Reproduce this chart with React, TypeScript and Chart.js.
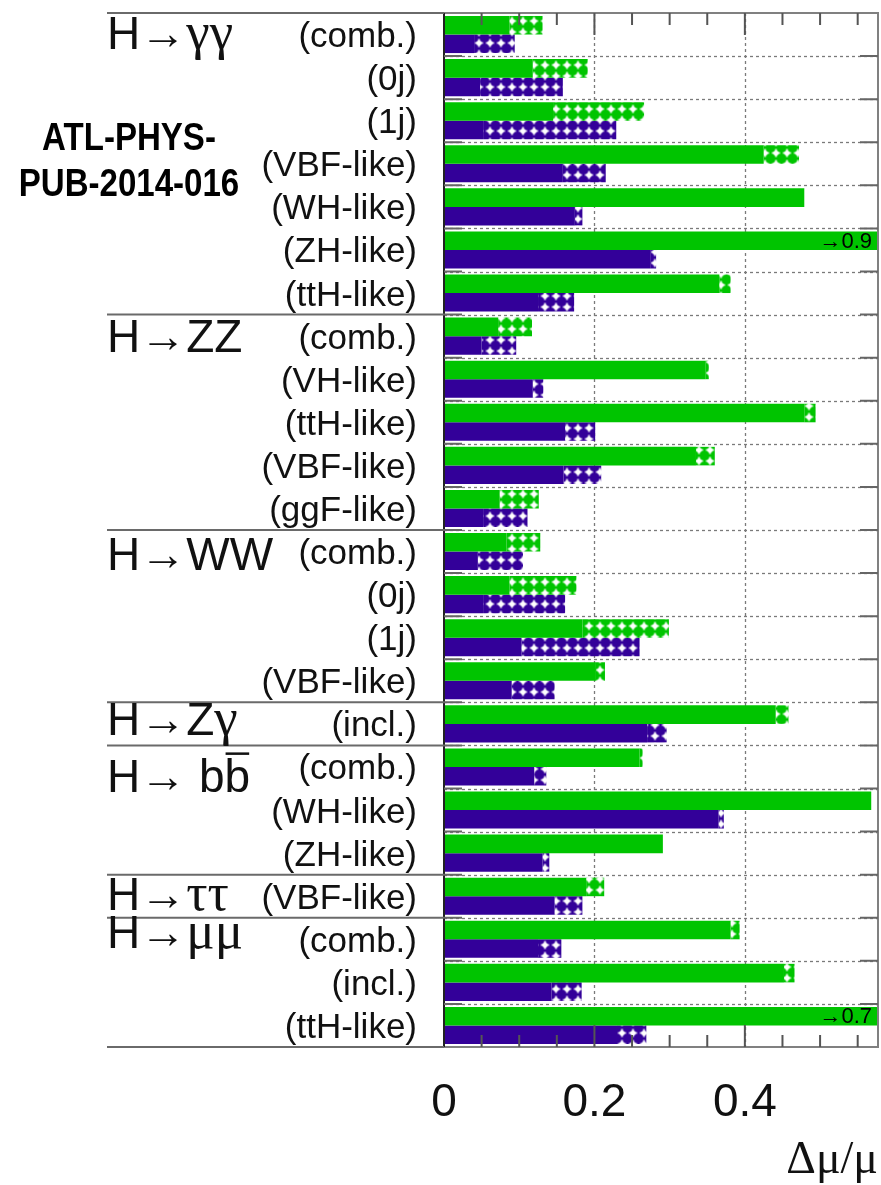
import { useEffect, useRef } from 'react';
import { Chart, registerables } from 'chart.js';

Chart.register(...registerables);

// Channel categories (top to bottom)
const channels = [
  '(comb.)', '(0j)', '(1j)', '(VBF-like)', '(WH-like)', '(ZH-like)', '(ttH-like)',
  '(comb.)', '(VH-like)', '(ttH-like)', '(VBF-like)', '(ggF-like)',
  '(comb.)', '(0j)', '(1j)', '(VBF-like)',
  '(incl.)',
  '(comb.)', '(WH-like)', '(ZH-like)',
  '(VBF-like)',
  '(comb.)', '(incl.)', '(ttH-like)',
];

// Decay-mode groups and how many channels each one spans
const groupTitles = ['H→γγ', 'H→ZZ', 'H→WW', 'H→Zγ', 'H→ bb\u0304', 'H→ττ', 'H→μμ'];
const groupSizes = [7, 5, 4, 1, 3, 1, 3];

// 300 fb-1: experimental-only and total (incl. theory) relative uncertainty
const lumi300Exp = [
  0.087, 0.118, 0.145, 0.425, 0.479, 0.9, 0.366,
  0.072, 0.348, 0.479, 0.335, 0.074,
  0.083, 0.087, 0.184, 0.202,
  0.441,
  0.26, 0.568, 0.291,
  0.189,
  0.381, 0.452, 0.7,
];
const lumi300Tot = [
  0.131, 0.191, 0.266, 0.472, 0.479, 0.9, 0.381,
  0.117, 0.352, 0.494, 0.36, 0.126,
  0.128, 0.176, 0.299, 0.214,
  0.458,
  0.264, 0.568, 0.291,
  0.213,
  0.393, 0.466, 0.7,
];

// 3000 fb-1: experimental-only and total relative uncertainty
const lumi3000Exp = [
  0.04, 0.048, 0.052, 0.158, 0.174, 0.275, 0.125,
  0.05, 0.118, 0.161, 0.159, 0.052,
  0.045, 0.052, 0.103, 0.09,
  0.27,
  0.12, 0.365, 0.131,
  0.147,
  0.125, 0.143, 0.23,
];
const lumi3000Tot = [
  0.094, 0.158, 0.229, 0.215, 0.184, 0.282, 0.173,
  0.096, 0.132, 0.201, 0.209, 0.111,
  0.105, 0.161, 0.26, 0.147,
  0.296,
  0.136, 0.372, 0.14,
  0.184,
  0.156, 0.183, 0.269,
];

const xTickLabels = [0, 0.2, 0.4];
const X_MAX = 0.577;
const X_MINOR_STEP = 0.05;

const GREEN = '#00c400';
const PURPLE = '#330099';
const SANS = '"Liberation Sans", Arial, Helvetica, sans-serif';
const SERIF = '"Liberation Serif", "Times New Roman", serif';

// Per-group baseline shift of the decay-mode title relative to its first row centre
const groupTitleDy = [14, 16, 18, 11, 25, 14, 9];
const GROUP_TITLE_X = 107;

function makeStarPattern(ctx: CanvasRenderingContext2D, base: string) {
  const tile = document.createElement('canvas');
  tile.width = 11;
  tile.height = 11;
  const g = tile.getContext('2d')!;
  g.fillStyle = base;
  g.fillRect(0, 0, 11, 11);
  g.fillStyle = '#ffffff';
  g.beginPath();
  g.arc(5.5, 5.5, 2.6, 0, Math.PI * 2);
  g.fill();
  g.fillRect(4.6, 1.5, 1.8, 8);
  g.fillRect(1.5, 4.6, 8, 1.8);
  const p = ctx.createPattern(tile, 'repeat')!;
  try {
    p.setTransform(new DOMMatrix([1, 0, 0, 1, 0.5, 4.5]));
  } catch (e) {
    /* ignore */
  }
  return p;
}

function drawGroupTitle(ctx: CanvasRenderingContext2D, text: string, x: number, y: number, size: number) {
  let cx = x;
  let prevX = 0;
  let prevW = 0;
  ctx.textAlign = 'left';
  ctx.textBaseline = 'alphabetic';
  for (const ch of text) {
    if (ch === '\u0304') {
      ctx.fillRect(prevX + 1, y - size * 0.86, prevW - 2, 2.5);
      continue;
    }
    const greek = /[γτμ]/.test(ch);
    ctx.font = greek ? `${Math.round(size * 1.15)}px ${SERIF}` : `${size}px ${SANS}`;
    ctx.fillText(ch, cx, y);
    const w = ctx.measureText(ch).width;
    prevX = cx;
    prevW = w;
    cx += w;
  }
}

const framePlugin = {
  id: 'atlasFrame',
  beforeDatasetsDraw(chart: any) {
    const { ctx, chartArea: a, scales } = chart;
    const x = scales.x;
    const y = scales.y;
    const n = channels.length;
    ctx.save();
    ctx.strokeStyle = '#7a7a7a';
    ctx.lineWidth = 1.3;
    ctx.setLineDash([3, 3]);
    for (const v of xTickLabels) {
      if (v <= 0) continue;
      const px = Math.round(x.getPixelForValue(v)) + 0.5;
      ctx.beginPath();
      ctx.moveTo(px, a.top);
      ctx.lineTo(px, a.bottom);
      ctx.stroke();
    }
    for (let i = 1; i < n; i++) {
      const py = Math.round((y.getPixelForValue(i - 1) + y.getPixelForValue(i)) / 2) + 0.5;
      ctx.beginPath();
      ctx.moveTo(a.left, py);
      ctx.lineTo(a.right, py);
      ctx.stroke();
    }
    ctx.restore();
  },
  afterDatasetsDraw(chart: any) {
    const { ctx, chartArea: a, scales } = chart;
    const x = scales.x;
    const y = scales.y;
    const n = channels.length;
    const boundary = (i: number) => {
      if (i <= 0) return a.top;
      if (i >= n) return a.bottom;
      return (y.getPixelForValue(i - 1) + y.getPixelForValue(i)) / 2;
    };
    ctx.save();

    // Off-scale markers on bars that run past the axis range
    const meta0 = chart.getDatasetMeta(0);
    ctx.fillStyle = '#000';
    ctx.font = `22px ${SANS}`;
    ctx.textAlign = 'right';
    ctx.textBaseline = 'middle';
    lumi300Tot.forEach((v, i) => {
      if (v > X_MAX) ctx.fillText(`→${v}`, a.right - 6, meta0.data[i].y + 1);
    });

    // Frame
    ctx.lineWidth = 2;
    ctx.strokeStyle = '#808080';
    ctx.beginPath();
    ctx.moveTo(a.left, a.top);
    ctx.lineTo(a.right, a.top);
    ctx.lineTo(a.right, a.bottom);
    ctx.lineTo(a.left, a.bottom);
    ctx.stroke();
    ctx.strokeStyle = '#222';
    ctx.beginPath();
    ctx.moveTo(a.left, a.top);
    ctx.lineTo(a.left, a.bottom);
    ctx.stroke();

    // x-axis ticks (inward, top and bottom)
    ctx.strokeStyle = '#555';
    ctx.lineWidth = 2;
    const nSteps = Math.floor(X_MAX / X_MINOR_STEP + 1e-6);
    for (let k = 1; k <= nSteps; k++) {
      const px = x.getPixelForValue(k * X_MINOR_STEP);
      const len = k % 4 === 0 ? 22 : 12;
      ctx.beginPath();
      ctx.moveTo(px, a.bottom);
      ctx.lineTo(px, a.bottom - len);
      ctx.moveTo(px, a.top);
      ctx.lineTo(px, a.top + len);
      ctx.stroke();
    }

    // y-axis ticks at row boundaries
    ctx.strokeStyle = '#666';
    for (let i = 1; i < n; i++) {
      const py = boundary(i);
      ctx.beginPath();
      ctx.moveTo(a.left, py);
      ctx.lineTo(a.left + 18, py);
      ctx.moveTo(a.right - 18, py);
      ctx.lineTo(a.right, py);
      ctx.stroke();
    }

    // Group separators on the label side
    ctx.strokeStyle = '#6a6a6a';
    ctx.lineWidth = 2;
    let start = 0;
    const seps = [0];
    groupSizes.forEach((s) => {
      start += s;
      seps.push(start);
    });
    seps.forEach((i) => {
      const py = boundary(i);
      ctx.beginPath();
      ctx.moveTo(GROUP_TITLE_X, py);
      ctx.lineTo(a.left, py);
      ctx.stroke();
    });

    // Channel labels
    ctx.fillStyle = '#111';
    ctx.font = `35px ${SANS}`;
    ctx.textAlign = 'right';
    ctx.textBaseline = 'alphabetic';
    channels.forEach((lab, i) => {
      ctx.fillText(lab, a.left - 27, y.getPixelForValue(i) + 12.5);
    });

    // Decay-mode titles
    ctx.fillStyle = '#111';
    let row = 0;
    groupTitles.forEach((t, gi) => {
      drawGroupTitle(ctx, t, GROUP_TITLE_X, y.getPixelForValue(row) + groupTitleDy[gi], 46);
      row += groupSizes[gi];
    });

    // x tick labels
    ctx.fillStyle = '#111';
    ctx.font = `46px ${SANS}`;
    ctx.textAlign = 'center';
    ctx.textBaseline = 'alphabetic';
    xTickLabels.forEach((v) => {
      ctx.fillText(String(v), x.getPixelForValue(v), a.bottom + 69);
    });

    // Axis title
    ctx.font = `46px ${SERIF}`;
    ctx.textAlign = 'right';
    ctx.fillText('Δμ/μ', a.right, a.bottom + 126);

    ctx.restore();
  },
};

export default function App() {
  const canvasRef = useRef<HTMLCanvasElement | null>(null);

  useEffect(() => {
    const canvas = canvasRef.current;
    if (!canvas) return;
    const ctx = canvas.getContext('2d')!;
    const greenHatch = makeStarPattern(ctx, GREEN);
    const purpleHatch = makeStarPattern(ctx, PURPLE);

    const chart = new Chart(canvas, {
      type: 'bar',
      data: {
        labels: channels,
        datasets: [
          {
            label: '300 fb-1 (exp.)',
            data: lumi300Exp,
            backgroundColor: GREEN,
            stack: 'lumi300',
          },
          {
            label: '300 fb-1 (theory)',
            data: lumi300Tot.map((t, i) => Math.max(0, t - lumi300Exp[i])),
            backgroundColor: greenHatch,
            stack: 'lumi300',
          },
          {
            label: '3000 fb-1 (exp.)',
            data: lumi3000Exp,
            backgroundColor: PURPLE,
            stack: 'lumi3000',
          },
          {
            label: '3000 fb-1 (theory)',
            data: lumi3000Tot.map((t, i) => Math.max(0, t - lumi3000Exp[i])),
            backgroundColor: purpleHatch,
            stack: 'lumi3000',
          },
        ],
      },
      options: {
        responsive: false,
        animation: false,
        indexAxis: 'y',
        layout: { padding: { left: 444, right: 3, top: 13, bottom: 138 } },
        datasets: { bar: { categoryPercentage: 0.86, barPercentage: 1.0, borderWidth: 0 } },
        plugins: { legend: { display: false }, tooltip: { enabled: false } },
        scales: {
          x: { display: false, stacked: true, min: 0, max: X_MAX },
          y: { display: false },
        },
      },
      plugins: [framePlugin],
    } as any);

    return () => chart.destroy();
  }, []);

  return (
    <div style={{ position: 'absolute', left: 0, top: 0, width: 881, height: 1185, background: '#fff' }}>
      <canvas ref={canvasRef} width={881} height={1185} style={{ position: 'absolute', left: 0, top: 0 }} />
      <div
        style={{
          position: 'absolute',
          left: 0,
          top: 114,
          width: 258,
          textAlign: 'center',
          whiteSpace: 'nowrap',
          fontFamily: '"Liberation Sans", Arial, sans-serif',
          fontWeight: 'bold',
          fontSize: 38,
          lineHeight: '46px',
          color: '#000',
          transform: 'scaleX(0.87)',
          transformOrigin: '129px 0',
        }}
      >
        ATL-PHYS-
        <br />
        PUB-2014-016
      </div>
    </div>
  );
}
